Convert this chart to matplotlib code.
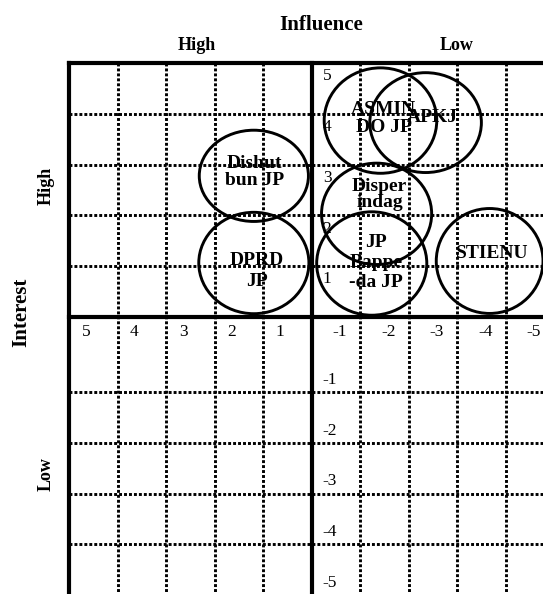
import matplotlib
matplotlib.use("Agg")
import matplotlib.pyplot as plt
from matplotlib.patches import Ellipse

plt.rcParams['font.family'] = ['Liberation Serif', 'DejaVu Serif']

# ---- data ----
stakeholders = ["Dishut\nbun JP", "DPRD\nJP", "ASMIN\nDO JP", "APKJ",
                "Disper\nindag", "JP\nBappe\n-da JP", "STIENU"]
influence = [1.19, 1.19, -1.42, -2.35, -1.34, -1.24, -3.67]
interest = [2.78, 1.06, 3.87, 3.83, 2.03, 1.05, 1.10]
bubble_w = [2.25, 2.27, 2.32, 2.30, 2.27, 2.27, 2.20]
bubble_h = [1.80, 2.00, 2.08, 1.97, 2.00, 2.04, 2.07]

x_tick_values = [5, 4, 3, 2, 1, -1, -2, -3, -4, -5]
y_tick_values = [5, 4, 3, 2, 1, -1, -2, -3, -4, -5]
x_grid = [4, 3, 2, 1, -1, -2, -3, -4]
y_grid_upper = [4, 3, 2, 1]
y_grid_lower = [-1.48, -2.49, -3.49, -4.49]

# label layout (pixels offset relative to bubble centres, line spacing)
label_off = [(1, 4), (3, -8), (3, 2), (7, 5.5), (3, 19), (4, 1), (3, 7.5)]
label_ls = [1.05, 1.25, 1.1, 1.0, 0.9, 1.25, 1.0]

W, H = 543, 594
fig = plt.figure(figsize=(W / 100, H / 100), dpi=100)
ax = fig.add_axes([69 / W, 0, (W - 69) / W, (H - 63.3) / H])
ax.set_xlim(5, -4.77)
ax.set_ylim(-5.47, 5)
ax.axis('off')

dot = dict(color='black', lw=2.1, linestyle=(0, (1.0, 0.7)),
           dash_capstyle='butt', zorder=1)
for xv in x_grid:
    ax.plot([xv, xv], [5, -5.47], **dot)
for yv in y_grid_upper + y_grid_lower:
    ax.plot([5, -4.77], [yv, yv], **dot)

thick = dict(color='black', lw=3.0, solid_capstyle='projecting',
             zorder=3, clip_on=False)
ax.plot([5, 5], [5, -5.6], **thick)
ax.plot([5, -4.9], [5, 5], **thick)
ax.plot([0, 0], [5, -5.6], **thick)
ax.plot([5, -4.9], [0, 0], **thick)

for name, x, y, w, h, (dx, dy), ls in zip(stakeholders, influence, interest,
                                           bubble_w, bubble_h, label_off,
                                           label_ls):
    ax.add_patch(Ellipse((x, y), w, h, fill=False, edgecolor='black',
                         lw=2.1, zorder=4))
    ax.annotate(name, (x, y), xytext=(dx, dy), textcoords='offset pixels',
                ha='center', va='center', fontsize=14, fontweight='bold',
                linespacing=ls, zorder=5)

# x tick labels on the horizontal axis row
for v in x_tick_values:
    xpos = v - 0.35 if v > 0 else v + 0.42
    ax.text(xpos, -0.3, str(v), ha='center', va='center', fontsize=12.5)

# y tick labels next to the vertical axis
for v in y_tick_values:
    ypos = v - 0.26 if v > 0 else v - 0.25
    ax.text(-0.23, ypos, str(v), ha='left', va='center', fontsize=12.5)

def ftext(px, py, s, **kw):
    fig.text(px / W, 1 - py / H, s, ha='center', va='center',
             fontweight='bold', **kw)

ftext(321.5, 25.5, "Influence", fontsize=15)
ftext(196.5, 45, "High", fontsize=13)
ftext(457, 45, "Low", fontsize=13)
ftext(21.5, 312, "Interest", fontsize=15, rotation=90)
ftext(46, 186, "High", fontsize=13, rotation=90)
ftext(46, 474, "Low", fontsize=13, rotation=90)

fig.savefig("out.png", dpi=100)
